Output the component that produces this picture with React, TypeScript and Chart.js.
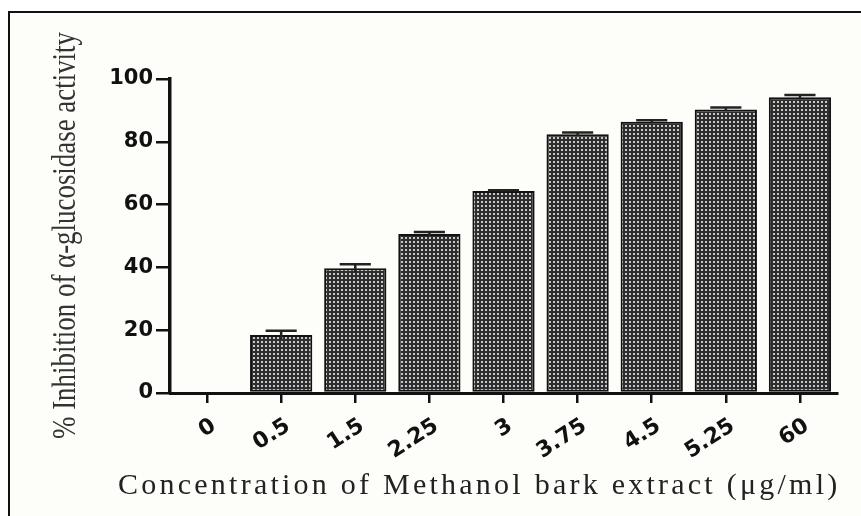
import React, { useEffect, useRef } from "react";
import { Chart, registerables } from "chart.js";

Chart.register(...registerables);

const categories = ["0", "0.5", "1.5", "2.25", "3", "3.75", "4.5", "5.25", "60"];
const inhibition = [0, 18.5, 39.7, 50.6, 64.3, 82.4, 86.4, 90.3, 94.2];
const errors = [0, 1.3, 1.3, 0.7, 0.3, 0.6, 0.5, 0.6, 0.7];
const yTicks = [0, 20, 40, 60, 80, 100];
const xTitle = "Concentration of Methanol bark extract (\u03bcg/ml)";
const yTitle = "% Inhibition of \u03b1-glucosidase activity";

function makePattern(): CanvasPattern | string {
  const c = document.createElement("canvas");
  c.width = 4;
  c.height = 4;
  const g = c.getContext("2d");
  if (!g) return "#666";
  g.fillStyle = "#2e2e2e";
  g.fillRect(0, 0, 4, 4);
  g.fillStyle = "#c8c8c8";
  g.fillRect(1, 1, 2, 2);
  const p = g.createPattern(c, "repeat");
  return p || "#666";
}

const errorBarPlugin = {
  id: "errorBars",
  afterDatasetsDraw(chart: any) {
    const ctx = chart.ctx;
    const meta = chart.getDatasetMeta(0);
    const ys = chart.scales.y;
    ctx.save();
    ctx.strokeStyle = "#222";
    ctx.lineWidth = 2.5;
    meta.data.forEach((bar: any, i: number) => {
      const e = errors[i];
      if (!e) return;
      const v = inhibition[i];
      const x = bar.x;
      const yTop = ys.getPixelForValue(v + e);
      const yBot = ys.getPixelForValue(v - e);
      const half = bar.width * 0.25;
      ctx.beginPath();
      ctx.moveTo(x, yBot);
      ctx.lineTo(x, yTop);
      ctx.moveTo(x - half, yTop);
      ctx.lineTo(x + half, yTop);
      ctx.stroke();
    });
    ctx.restore();
  },
};

const titlesPlugin = {
  id: "axisTitlesCustom",
  afterDraw(chart: any) {
    const ctx = chart.ctx;
    const area = chart.chartArea;
    ctx.save();
    ctx.font = "33px 'Liberation Serif', 'Times New Roman', serif";
    ctx.fillStyle = "#333";
    ctx.textAlign = "center";
    ctx.textBaseline = "alphabetic";
    const w = ctx.measureText(yTitle).width;
    const target = 407;
    ctx.translate(75, (area.top + area.bottom) / 2 - 0.5);
    ctx.rotate(-Math.PI / 2);
    ctx.scale(target / w, 1);
    ctx.fillText(yTitle, 0, 0);
    ctx.restore();

    ctx.save();
    ctx.font = "30px 'Liberation Serif', 'Times New Roman', serif";
    ctx.fillStyle = "#222";
    ctx.textAlign = "left";
    ctx.textBaseline = "alphabetic";
    const w2 = ctx.measureText(xTitle).width;
    const span = 719;
    const sp = (span - w2) / (xTitle.length - 1);
    (ctx as any).letterSpacing = sp.toFixed(2) + "px";
    ctx.fillText(xTitle, 118, 494);
    ctx.restore();
  },
};

export default function App() {
  const ref = useRef<HTMLCanvasElement | null>(null);
  useEffect(() => {
    if (!ref.current) return;
    const pattern = makePattern();
    const chart = new Chart(ref.current, {
      type: "bar",
      data: {
        labels: categories,
        datasets: [
          {
            data: inhibition,
            backgroundColor: pattern as any,
            borderColor: "#111",
            borderWidth: 2,
            borderSkipped: false,
            barPercentage: 0.84,
            categoryPercentage: 1,
          },
        ],
      },
      options: {
        responsive: false,
        animation: false,
        layout: { padding: { left: 0, right: 24, top: 79, bottom: 0 } },
        plugins: { legend: { display: false }, tooltip: { enabled: false } },
        scales: {
          x: {
            offset: true,
            grid: {
              drawOnChartArea: false,
              drawTicks: true,
              tickLength: 10,
              color: "#111",
              lineWidth: 2.5,
              offset: false,
            },
            border: { display: true, color: "#111", width: 3 },
            ticks: {
              color: "#111",
              minRotation: 33,
              maxRotation: 33,
              padding: 10,
              labelOffset: 7,
              font: { family: "'DejaVu Sans', Arial, sans-serif", weight: "bold", size: 22 },
            },
            afterFit(scale: any) {
              scale.height = 123;
            },
          },
          y: {
            min: 0,
            max: 100,
            afterBuildTicks(scale: any) {
              scale.ticks = yTicks.map((v) => ({ value: v }));
            },
            grid: {
              drawOnChartArea: false,
              drawTicks: true,
              tickLength: 14,
              color: "#111",
              lineWidth: 2.5,
            },
            border: { display: true, color: "#111", width: 3.5 },
            ticks: {
              color: "#111",
              padding: 3,
              font: { family: "'DejaVu Sans', Arial, sans-serif", weight: "bold", size: 21 },
            },
            afterFit(scale: any) {
              scale.width = 170;
            },
          },
        },
      },
      plugins: [errorBarPlugin, titlesPlugin],
    });
    return () => chart.destroy();
  }, []);

  return (
    <div style={{ position: "fixed", left: 0, top: 0, width: 861, height: 516, background: "#fff", overflow: "hidden" }}>
      <div
        style={{
          position: "absolute",
          left: 8,
          top: 11,
          width: 853,
          height: 505,
          boxSizing: "border-box",
          borderLeft: "2px solid #111",
          borderTop: "2px solid #111",
          background: "#fdfdf9",
        }}
      />
      <canvas ref={ref} width={861} height={516} style={{ position: "absolute", left: 0, top: 0 }} />
    </div>
  );
}
